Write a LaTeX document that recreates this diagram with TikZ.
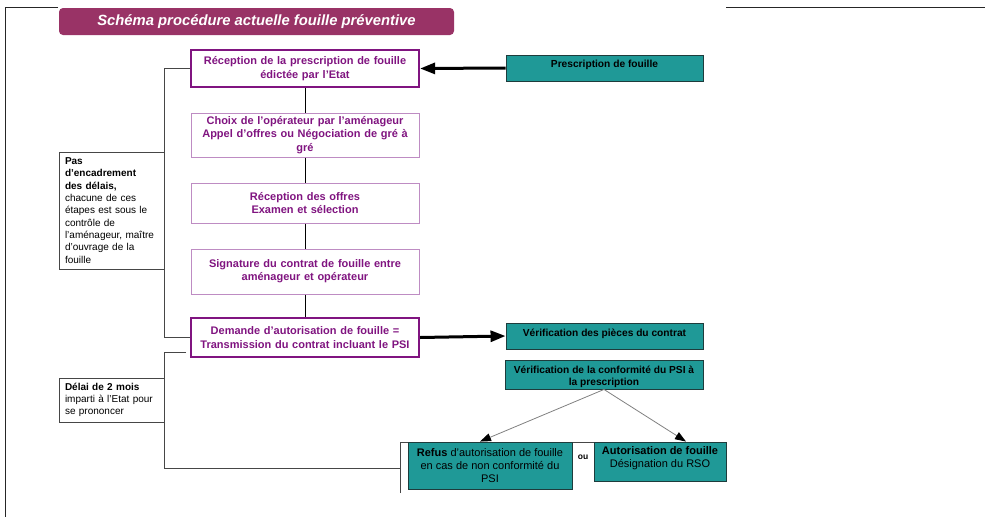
\documentclass[tikz,border=0pt]{standalone}
\usepackage{fontspec}
\setmainfont{Liberation Sans}
\usetikzlibrary{arrows.meta}
\definecolor{plumt}{RGB}{153,51,102}
\definecolor{purp}{RGB}{128,20,128}
\definecolor{lpurp}{RGB}{190,140,195}
\definecolor{tealf}{RGB}{31,153,151}
\definecolor{teald}{RGB}{30,60,60}
\definecolor{lineg}{RGB}{70,70,70}
\newcommand{\rl}[2]{\raisebox{#1}[8pt][2.5pt]{#2}}
\begin{document}
\begin{tikzpicture}[x=1pt,y=-1pt,
  pbox/.style={draw=purp, line width=2.2pt, fill=white, minimum width=228pt, text width=222pt,
    align=center, inner sep=0pt, text=purp, font=\fontsize{11}{13.3}\selectfont\bfseries},
  lbox/.style={pbox, draw=lpurp, line width=1pt},
  tbox/.style={draw=teald, line width=0.9pt, fill=tealf, inner sep=0pt, align=center,
    font=\fontsize{10.2}{12}\selectfont\bfseries},
  rbox/.style={tbox, font=\fontsize{11}{12.6}\selectfont},
  notebox/.style={draw=lineg, line width=0.8pt, fill=white, align=left, inner xsep=6pt, inner ysep=0pt,
    font=\fontsize{10}{12.3}\selectfont, anchor=center},
  brk/.style={draw=lineg, line width=0.8pt},
  vconn/.style={draw=black, line width=0.8pt},
  thick arrow/.style={draw=black, line width=3pt, -{Triangle[length=15pt,width=11pt]}},
  diag arrow/.style={draw=gray, line width=0.8pt, -{Triangle[length=11pt,width=8pt,color=black]}}
]
\useasboundingbox (0,0) rectangle (985,517);

% outer frame
\coordinate (fa) at (58,7);
\coordinate (fb) at (5,7);
\coordinate (fc) at (5,517);
\coordinate (fd) at (726,7);
\coordinate (fe) at (985,7);
\draw[brk, draw=black!85] (fa) -- (fb) -- (fc);
\draw[brk, draw=black!85] (fd) -- (fe);

% title
\node[fill=plumt, rounded corners=4pt, minimum width=395pt, minimum height=27pt, inner sep=0pt,
  text=white, font=\fontsize{14.8}{16}\selectfont\bfseries\itshape] (title) at (256.5,21.5)
  {Schéma procédure actuelle fouille préventive};

% notes
\node[notebox, minimum width=105pt, minimum height=117pt, text width=93pt] (note1) at (111.5,210.5)
  {\textbf{Pas\\d’encadrement\\des délais,}\\chacune de ces\\étapes est sous le\\contrôle de\\l’aménageur, maître\\d’ouvrage de la\\fouille};
\node[notebox, minimum width=105pt, minimum height=44pt, text width=93pt] (note2) at (111.5,400)
  {\textbf{Délai de 2 mois}\\imparti à l’Etat pour\\se prononcer};

% group lines for decision
\coordinate (g1) at (186,352);
\coordinate (g2) at (164,352);
\coordinate (g3) at (164,468);
\coordinate (g4) at (400.5,468);
\coordinate (gtop) at (400.5,442);
\coordinate (gbot) at (400.5,493);
\draw[brk] (g1) -- (g2) -- (g3) -- (g4);
\draw[brk] (gbot) -- (gtop) -- (594,442);

% main purple boxes
\node[pbox, minimum height=37pt] (b1) at (305,68.5) {Réception de la prescription de fouille\\édictée par l’Etat};
\node[lbox, minimum height=44pt] (b2) at (305,135) {Choix de l’opérateur par l’aménageur\\Appel d’offres ou Négociation de gré à\\gré};
\node[lbox, minimum height=40pt] (b3) at (305,203) {Réception des offres\\Examen et sélection};
\node[lbox, minimum height=45pt] (b4) at (305,271.5) {Signature du contrat de fouille entre\\aménageur et opérateur};
\node[pbox, minimum height=39pt] (b5) at (305,337.5) {Demande d’autorisation de fouille =\\Transmission du contrat incluant le PSI};

\draw[vconn] (b1.south) -- (b2.north);
\draw[vconn] (b2.south) -- (b3.north);
\draw[vconn] (b3.south) -- (b4.north);
\draw[vconn] (b4.south) -- (b5.north);

% left bracket
\draw[brk] (b1.west) -- (b1.west -| note1.east) -- (b5.west -| note1.east) -- (b5.west);

% teal boxes
\node[tbox, minimum width=197pt, minimum height=26pt] (presc) at (604.5,68) {\rl{3.5pt}{Prescription de fouille}};
\node[tbox, minimum width=197pt, minimum height=26pt] (verif) at (604.5,336) {\rl{2pt}{Vérification des pièces du contrat}};
\node[tbox, minimum width=198pt, minimum height=29pt] (conf) at (604,374.5) {\rl{-2pt}{Vérification de la conformité du PSI à}\\\rl{-2pt}{la prescription}};
\node[rbox, minimum width=164pt, minimum height=47pt] (refus) at (490,465.5) {\textbf{Refus} d’autorisation de fouille\\en cas de non conformité du\\PSI};
\node[rbox, minimum width=132pt, minimum height=39pt] (auth) at (660,461.5) {\rl{3pt}{\textbf{Autorisation de fouille}}\\\rl{3pt}{Désignation du RSO}};
\node[font=\fontsize{8.5}{9}\selectfont\bfseries, inner sep=0pt] (ou) at (583,457) {ou};

% arrows
\draw[thick arrow] (presc.west) -- (b1.east);
\draw[thick arrow] (b5.east) -- (verif.west);
\draw[diag arrow] (conf.south) -- ([xshift=-10pt]refus.north);
\draw[diag arrow] (conf.south) -- ([xshift=26pt]auth.north);
\end{tikzpicture}
\end{document}
